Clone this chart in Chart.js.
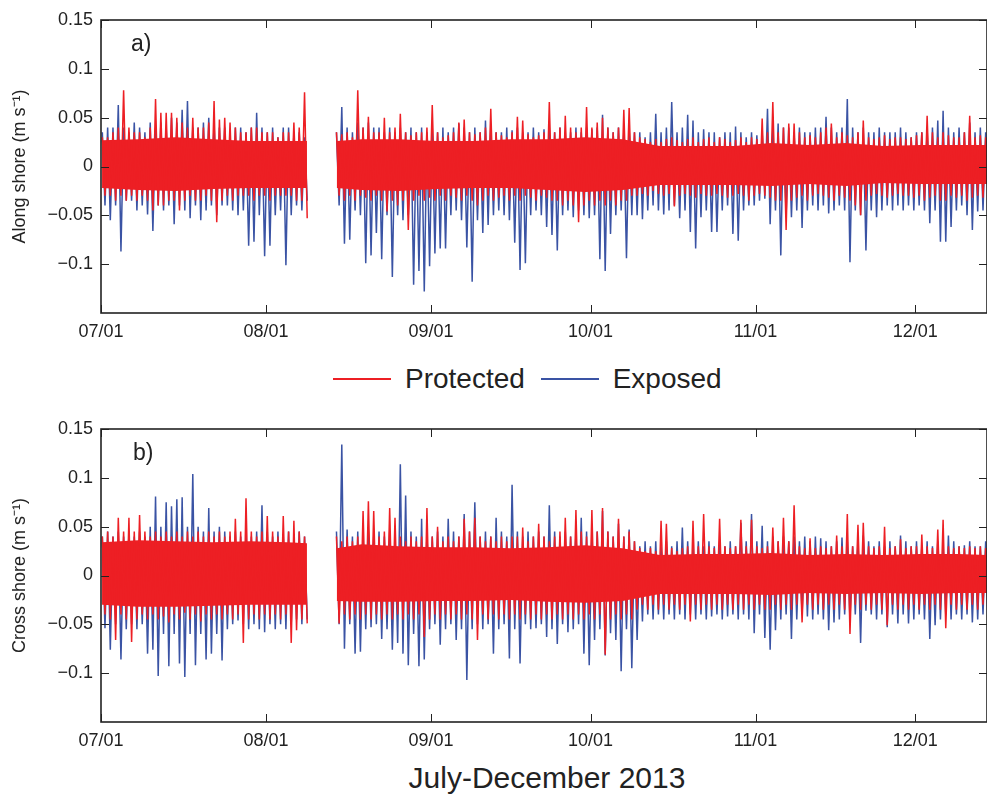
<!DOCTYPE html>
<html>
<head>
<meta charset="utf-8">
<script src="https://cdn.jsdelivr.net/npm/chart.js@4.4.1/dist/chart.umd.min.js"></script>
<style>
  body { margin: 0; background: #fff; }
  #wrap { position: relative; width: 987px; height: 806px; font-family: "Liberation Sans", Arial, Helvetica, sans-serif; color: #222; }
  canvas { position: absolute; left: 0; }
  .plab { position: absolute; font-size: 23px; }
  #legend { position: absolute; top: 361px; left: 333px; font-size: 28px; white-space: nowrap; }
  #legend span.sw { display: inline-block; width: 58px; height: 2px; vertical-align: middle; margin-right: 14px; }
  #legend span.txt { margin-right: 8px; vertical-align: middle; }
  #xtitle { position: absolute; top: 761px; left: 0; width: 1094px; text-align: center; font-size: 30px; }
</style>
</head>
<body>
<div id="wrap">
  <canvas id="along" width="987" height="345" style="top:0"></canvas>
  <canvas id="cross" width="987" height="345" style="top:409px"></canvas>
  <div class="plab" style="left:131px;top:30px">a)</div>
  <div class="plab" style="left:133px;top:439px">b)</div>
  <div id="legend">
    <span class="sw" style="background:#ED1F24"></span><span class="txt">Protected</span>
    <span class="sw" style="background:#3A53A4"></span><span class="txt">Exposed</span>
  </div>
  <div id="xtitle">July-December 2013</div>
</div>
<script>
// days counted from 07/01/2013; one hi/lo pair per day (m s-1), null = no data
const xTickDays = [0, 31, 62, 92, 123, 153];
const xTickLabels = ["07/01", "08/01", "09/01", "10/01", "11/01", "12/01"];
const yTicks = [-0.1, -0.05, 0, 0.05, 0.1, 0.15];
const yTickLabels = ["\u22120.1", "\u22120.05", "0", "0.05", "0.1", "0.15"];

// a) along shore
const alongProtHi = [
  .030,.030,.035,.040,.078,.040,.035,.035,.030,.040,
  .069,.055,.055,.055,.050,.045,.040,.050,.040,.040,
  .045,.067,.048,.050,.045,.040,.035,.035,.040,.040,
  .035,.035,.035,.030,.035,.035,.045,.040,.076,
  null,null,null,null,null,
  .035,
  .033,.035,.030,.078,.040,.051,.035,.035,.050,.035,
  .040,.054,.035,.032,.035,.035,.040,.063,.035,.030,
  .032,.035,.045,.048,.035,.033,.035,.040,.059,.035,
  .032,.030,.035,.051,.047,.033,.030,.032,.035,.066,
  .035,.040,.052,.040,.035,.040,.061,.040,.045,.050,
  .040,.035,.040,.058,.060,.035,.030,.028,.025,.028,
  .025,.028,.030,.027,.025,.028,.030,.025,.028,.030,
  .025,.030,.028,.025,.027,.030,.025,.030,.028,.049,
  .035,.066,.035,.040,.044,.044,.035,.030,.032,.030,
  .035,.040,.044,.030,.035,.032,.030,.035,.047,.030,
  .028,.030,.032,.028,.030,.030,.028,.030,.032,.035,
  .052,.035,.030,.035,.032,.030,.030,.035,.052,.030,
  .032,.030
];
const alongProtLo = [
  -.030,-.030,-.035,-.030,-.035,-.030,-.035,-.030,-.035,-.045,
  -.040,-.040,-.035,-.035,-.045,-.035,-.030,-.035,-.035,-.030,
  -.035,-.057,-.035,-.030,-.035,-.030,-.030,-.030,-.035,-.030,
  -.030,-.035,-.030,-.030,-.030,-.030,-.035,-.035,-.053,
  null,null,null,null,null,
  -.030,
  -.035,-.030,-.035,-.030,-.032,-.035,-.030,-.035,-.046,-.035,
  -.040,-.035,-.065,-.035,-.030,-.035,-.032,-.035,-.030,-.035,
  -.030,-.032,-.035,-.030,-.035,-.040,-.035,-.030,-.035,-.032,
  -.030,-.035,-.030,-.035,-.030,-.032,-.035,-.030,-.032,-.035,
  -.035,-.040,-.035,-.040,-.057,-.040,-.035,-.040,-.035,-.040,
  -.035,-.040,-.035,-.035,-.030,-.030,-.028,-.030,-.025,-.028,
  -.030,-.028,-.041,-.030,-.028,-.030,-.032,-.028,-.030,-.030,
  -.028,-.030,-.032,-.030,-.028,-.030,-.035,-.030,-.028,-.030,
  -.032,-.035,-.035,-.065,-.035,-.032,-.030,-.035,-.030,-.028,
  -.030,-.032,-.035,-.030,-.032,-.035,-.040,-.050,-.035,-.030,
  -.028,-.030,-.032,-.030,-.028,-.030,-.030,-.032,-.030,-.035,
  -.032,-.030,-.035,-.035,-.030,-.032,-.030,-.035,-.032,-.030,
  -.032,-.030
];
const alongExpHi = [
  .035,.040,.040,.063,.040,.035,.045,.040,.035,.045,
  .040,.045,.040,.050,.045,.058,.067,.040,.040,.045,
  .050,.045,.040,.040,.035,.040,.040,.035,.040,.055,
  .040,.035,.040,.030,.040,.040,.035,.035,.030,
  null,null,null,null,null,
  .035,
  .061,.040,.035,.045,.040,.045,.040,.040,.035,.040,
  .035,.040,.035,.040,.035,.040,.035,.040,.035,.040,
  .035,.040,.044,.040,.035,.040,.035,.047,.040,.035,
  .035,.040,.037,.040,.035,.035,.040,.035,.038,.040,
  .035,.040,.035,.035,.040,.035,.040,.038,.040,.053,
  .040,.035,.040,.035,.040,.035,.035,.030,.035,.054,
  .035,.040,.066,.035,.040,.053,.047,.035,.038,.035,
  .035,.030,.035,.035,.041,.035,.030,.035,.032,.035,
  .059,.040,.044,.040,.040,.035,.040,.035,.035,.040,
  .040,.051,.040,.035,.040,.069,.040,.035,.040,.035,
  .035,.040,.035,.035,.035,.040,.035,.030,.035,.035,
  .040,.040,.047,.057,.040,.035,.040,.035,.045,.035,
  .040,.035
];
const alongExpLo = [
  -.040,-.055,-.040,-.087,-.035,-.035,-.045,-.040,-.049,-.066,
  -.040,-.045,-.040,-.059,-.040,-.045,-.053,-.040,-.055,-.045,
  -.040,-.050,-.040,-.040,-.045,-.050,-.045,-.081,-.077,-.050,
  -.092,-.081,-.050,-.045,-.101,-.050,-.040,-.045,-.035,
  null,null,null,null,null,
  -.040,
  -.079,-.075,-.045,-.050,-.099,-.091,-.068,-.095,-.050,-.113,
  -.050,-.055,-.050,-.121,-.107,-.128,-.102,-.089,-.084,-.084,
  -.050,-.045,-.055,-.083,-.118,-.055,-.068,-.060,-.050,-.045,
  -.050,-.055,-.078,-.106,-.099,-.050,-.045,-.050,-.062,-.070,
  -.086,-.050,-.045,-.052,-.045,-.050,-.053,-.050,-.095,-.107,
  -.069,-.050,-.045,-.094,-.050,-.050,-.054,-.045,-.040,-.045,
  -.049,-.045,-.040,-.053,-.045,-.067,-.084,-.052,-.045,-.067,
  -.067,-.045,-.040,-.069,-.076,-.045,-.040,-.040,-.035,-.033,
  -.059,-.045,-.091,-.050,-.052,-.045,-.063,-.045,-.040,-.045,
  -.040,-.048,-.045,-.040,-.045,-.098,-.045,-.050,-.086,-.045,
  -.052,-.045,-.040,-.045,-.040,-.045,-.040,-.045,-.040,-.045,
  -.058,-.045,-.077,-.077,-.062,-.045,-.040,-.050,-.065,-.046,
  -.045,-.038
];

// b) cross shore
const crossProtHi = [
  .040,.045,.040,.059,.045,.059,.045,.062,.045,.040,
  .045,.040,.045,.040,.045,.040,.045,.040,.045,.040,
  .045,.040,.045,.040,.045,.058,.045,.079,.045,.040,
  .045,.061,.045,.040,.061,.045,.056,.045,.040,
  null,null,null,null,null,
  .040,
  .035,.040,.035,.040,.066,.076,.066,.040,.045,.069,
  .059,.040,.035,.040,.035,.040,.069,.040,.050,.035,
  .040,.035,.040,.058,.045,.059,.040,.035,.040,.035,
  .040,.035,.040,.040,.049,.035,.040,.053,.040,.035,
  .040,.045,.059,.040,.067,.045,.040,.067,.045,.069,
  .045,.040,.058,.040,.045,.035,.028,.025,.028,.025,
  .056,.053,.028,.025,.028,.030,.056,.030,.063,.030,
  .028,.058,.030,.028,.030,.057,.030,.057,.030,.028,
  .030,.049,.035,.059,.035,.072,.030,.028,.038,.028,
  .030,.028,.030,.041,.030,.063,.030,.052,.054,.030,
  .028,.030,.050,.028,.030,.037,.028,.030,.030,.042,
  .030,.028,.047,.057,.030,.028,.030,.028,.030,.028,
  .030,.028
];
const crossProtLo = [
  -.040,-.045,-.066,-.040,-.045,-.068,-.045,-.040,-.045,-.040,
  -.045,-.042,-.048,-.040,-.045,-.038,-.045,-.040,-.047,-.040,
  -.045,-.040,-.045,-.040,-.045,-.040,-.069,-.045,-.040,-.045,
  -.040,-.045,-.040,-.045,-.040,-.069,-.056,-.045,-.049,
  null,null,null,null,null,
  -.049,
  -.040,-.045,-.040,-.045,-.040,-.045,-.040,-.045,-.040,-.045,
  -.040,-.045,-.040,-.045,-.040,-.063,-.045,-.040,-.045,-.040,
  -.045,-.040,-.045,-.040,-.045,-.066,-.040,-.045,-.040,-.045,
  -.040,-.045,-.040,-.045,-.040,-.045,-.040,-.045,-.040,-.045,
  -.040,-.045,-.040,-.045,-.040,-.045,-.040,-.045,-.040,-.081,
  -.045,-.040,-.045,-.040,-.045,-.035,-.030,-.035,-.030,-.035,
  -.030,-.035,-.030,-.035,-.030,-.047,-.030,-.035,-.030,-.035,
  -.030,-.035,-.030,-.035,-.030,-.035,-.030,-.035,-.030,-.035,
  -.035,-.030,-.035,-.030,-.035,-.030,-.048,-.030,-.035,-.030,
  -.035,-.030,-.035,-.030,-.035,-.060,-.030,-.035,-.030,-.035,
  -.030,-.035,-.051,-.030,-.035,-.030,-.035,-.030,-.035,-.030,
  -.035,-.030,-.035,-.054,-.030,-.035,-.030,-.035,-.030,-.035,
  -.030,-.035
];
const crossExpHi = [
  .040,.045,.040,.045,.040,.045,.040,.045,.040,.050,
  .081,.050,.075,.071,.078,.080,.050,.104,.050,.045,
  .069,.045,.050,.045,.040,.045,.040,.045,.040,.045,
  .072,.045,.040,.045,.040,.045,.040,.045,.040,
  null,null,null,null,null,
  .045,
  .134,.047,.040,.045,.040,.045,.040,.045,.040,.045,
  .040,.114,.082,.045,.040,.058,.045,.040,.045,.040,
  .058,.045,.040,.063,.045,.075,.040,.045,.040,.059,
  .045,.040,.093,.045,.040,.045,.040,.045,.040,.072,
  .045,.040,.045,.040,.045,.059,.045,.040,.045,.066,
  .045,.040,.053,.040,.047,.035,.030,.035,.030,.035,
  .030,.035,.030,.035,.049,.035,.030,.035,.030,.035,
  .030,.035,.030,.035,.030,.054,.035,.063,.035,.051,
  .035,.040,.035,.040,.035,.040,.035,.040,.035,.040,
  .038,.035,.030,.035,.039,.035,.030,.035,.041,.035,
  .030,.035,.030,.035,.030,.041,.035,.030,.035,.030,
  .035,.030,.035,.030,.041,.035,.030,.031,.035,.030,
  .030,.035
];
const crossExpLo = [
  -.054,-.076,-.050,-.086,-.055,-.050,-.055,-.050,-.080,-.076,
  -.103,-.060,-.093,-.060,-.090,-.104,-.060,-.092,-.060,-.086,
  -.080,-.060,-.087,-.055,-.050,-.046,-.050,-.055,-.050,-.055,
  -.058,-.050,-.055,-.050,-.055,-.050,-.045,-.050,-.045,
  null,null,null,null,null,
  -.050,
  -.075,-.050,-.080,-.078,-.055,-.053,-.050,-.065,-.055,-.076,
  -.069,-.080,-.092,-.060,-.093,-.086,-.055,-.050,-.071,-.055,
  -.050,-.066,-.055,-.107,-.055,-.050,-.055,-.050,-.080,-.055,
  -.050,-.085,-.055,-.090,-.050,-.055,-.054,-.050,-.063,-.055,
  -.070,-.050,-.058,-.055,-.050,-.080,-.092,-.066,-.055,-.082,
  -.059,-.066,-.098,-.055,-.095,-.066,-.047,-.040,-.045,-.040,
  -.045,-.040,-.045,-.040,-.045,-.040,-.045,-.040,-.045,-.042,
  -.040,-.045,-.042,-.040,-.045,-.040,-.045,-.059,-.040,-.064,
  -.076,-.056,-.045,-.040,-.065,-.045,-.040,-.042,-.045,-.040,
  -.045,-.056,-.048,-.045,-.040,-.045,-.040,-.069,-.036,-.040,
  -.045,-.040,-.053,-.040,-.049,-.040,-.049,-.045,-.040,-.045,
  -.065,-.051,-.045,-.040,-.045,-.040,-.045,-.040,-.048,-.045,
  -.040,-.056
];

// solid part of the red (protected) trace, read about once a week
const coreDays = [0.2, 7, 14, 21, 28, 35, 38.7, 41, 44.3, 49, 56, 63, 70, 77, 84, 91, 98, 105, 112, 119, 126, 133, 140, 147, 154, 161, 166.5];
const alongCoreHi = [.027, .028, .030, .028, .026, .026, .026, null, .026, .028, .028, .026, .026, .028, .028, .030, .028, .021, .021, .021, .024, .022, .024, .021, .022, .022, .022];
const alongCoreLo = [-.022, -.024, -.025, -.023, -.022, -.022, -.022, null, -.022, -.024, -.025, -.023, -.022, -.022, -.024, -.026, -.024, -.019, -.019, -.019, -.020, -.018, -.020, -.017, -.018, -.018, -.018];
const crossCoreHi = [.034, .036, .035, .034, .035, .034, .033, null, .028, .032, .030, .029, .029, .028, .029, .031, .028, .021, .022, .022, .023, .021, .022, .021, .022, .022, .021];
const crossCoreLo = [-.030, -.032, -.032, -.031, -.030, -.030, -.030, null, -.026, -.027, -.027, -.026, -.026, -.025, -.027, -.028, -.026, -.019, -.019, -.019, -.020, -.018, -.019, -.018, -.019, -.018, -.018];

const RED = "#ED1F24";
const BLUE = "#3A53A4";
const AXIS = "#222";
const FONT = "'Liberation Sans', Arial, Helvetica, sans-serif";

// hi at quarter day, lo at three quarters -> dense up/down trace
function zigzag(hi, lo) {
  const pts = [];
  hi.forEach((h, d) => {
    if (h === null) {
      pts.push({ x: d + 0.5, y: null });
      return;
    }
    pts.push({ x: d + 0.25, y: h });
    pts.push({ x: d + 0.75, y: lo[d] });
  });
  return pts;
}

function byDay(days, vals) {
  return days.map((d, i) => ({ x: d, y: vals[i] }));
}

// matlab-style box with inward ticks on all four sides
const boxPlugin = {
  id: "box",
  afterDraw(chart) {
    const ctx = chart.ctx;
    const a = chart.chartArea;
    const xs = chart.scales.x;
    const ys = chart.scales.y;
    const len = 8;
    ctx.save();
    ctx.strokeStyle = AXIS;
    ctx.lineWidth = 1;
    ctx.beginPath();
    xTickDays.forEach((d) => {
      const px = Math.round(xs.getPixelForValue(d)) + 0.5;
      ctx.moveTo(px, a.bottom);
      ctx.lineTo(px, a.bottom - len);
      ctx.moveTo(px, a.top);
      ctx.lineTo(px, a.top + len);
    });
    yTicks.forEach((v) => {
      const py = Math.round(ys.getPixelForValue(v)) + 0.5;
      ctx.moveTo(a.left, py);
      ctx.lineTo(a.left + len, py);
      ctx.moveTo(a.right, py);
      ctx.lineTo(a.right - len, py);
    });
    ctx.stroke();
    ctx.lineWidth = 1.6;
    ctx.strokeRect(a.left, a.top, a.right - a.left, a.bottom - a.top);
    ctx.restore();
  },
};

function trace(label, pts, color, width) {
  return {
    label: label,
    data: pts,
    borderColor: color,
    borderWidth: width,
    pointRadius: 0,
    tension: 0,
    spanGaps: false,
    fill: false,
  };
}

function makePanel(id, yTitle, protHi, protLo, expHi, expLo, coreHi, coreLo) {
  // dataset 0 is drawn last (on top); the blue trace sits at the bottom
  return new Chart(document.getElementById(id), {
    type: "line",
    data: {
      datasets: [
        trace("Protected", zigzag(protHi, protLo), RED, 1.5),
        {
          label: "core",
          data: byDay(coreDays, coreHi),
          borderWidth: 0,
          borderColor: RED,
          backgroundColor: RED,
          pointRadius: 0,
          tension: 0,
          spanGaps: false,
          fill: "+1",
        },
        {
          label: "coreLo",
          data: byDay(coreDays, coreLo),
          borderWidth: 0,
          borderColor: RED,
          pointRadius: 0,
          tension: 0,
          spanGaps: false,
          fill: false,
        },
        trace("Exposed", zigzag(expHi, expLo), BLUE, 1.5),
      ],
    },
    options: {
      responsive: false,
      animation: false,
      devicePixelRatio: 1,
      layout: { padding: { top: 20, right: 0, left: 0, bottom: 0 } },
      plugins: { legend: { display: false }, tooltip: { enabled: false } },
      scales: {
        x: {
          type: "linear",
          min: 0,
          max: 166.5,
          afterBuildTicks: (s) => { s.ticks = xTickDays.map((v) => ({ value: v })); },
          afterFit: (s) => { s.height = 32; },
          grid: { display: false },
          border: { display: false },
          ticks: {
            autoSkip: false,
            maxRotation: 0,
            padding: 0,
            color: AXIS,
            font: { family: FONT, size: 18 },
            callback: (v, i) => xTickLabels[i],
          },
        },
        y: {
          min: -0.15,
          max: 0.15,
          afterBuildTicks: (s) => { s.ticks = yTicks.map((v) => ({ value: v })); },
          afterFit: (s) => { s.width = 101; },
          grid: { display: false },
          border: { display: false },
          ticks: {
            padding: 0,
            color: AXIS,
            font: { family: FONT, size: 18 },
            callback: (v, i) => yTickLabels[i],
          },
          title: {
            display: true,
            text: yTitle,
            color: AXIS,
            font: { family: FONT, size: 18 },
            padding: { top: 9, bottom: 0 },
          },
        },
      },
    },
    plugins: [boxPlugin],
  });
}

makePanel("along", "Along shore (m s\u207B\u00B9)", alongProtHi, alongProtLo, alongExpHi, alongExpLo, alongCoreHi, alongCoreLo);
makePanel("cross", "Cross shore (m s\u207B\u00B9)", crossProtHi, crossProtLo, crossExpHi, crossExpLo, crossCoreHi, crossCoreLo);
</script>
</body>
</html>
